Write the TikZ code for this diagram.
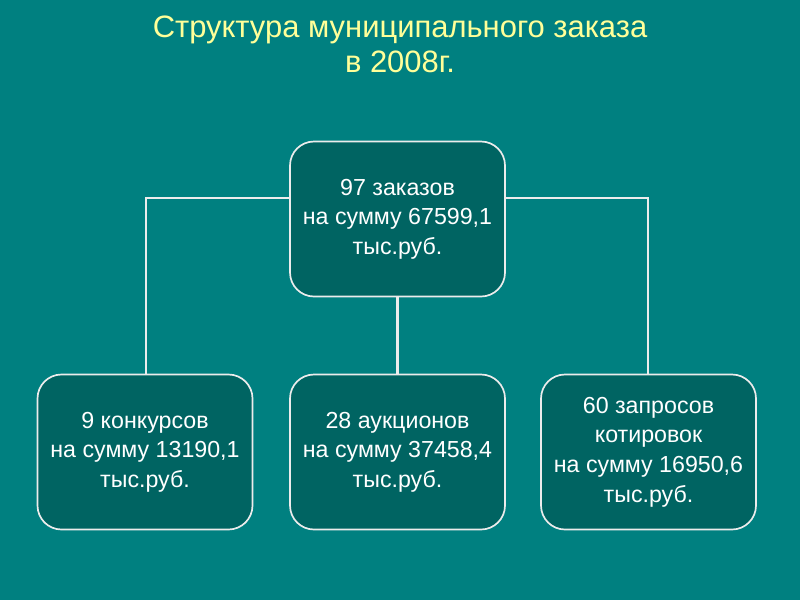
\documentclass[tikz,border=0pt]{standalone}
\usepackage{fontspec}
\setmainfont{Liberation Sans}
\begin{document}
\begin{tikzpicture}[x=0.025cm,y=-0.025cm,
  box/.style={draw=white!85!gray, line width=1.2pt, fill=boxcol, rounded corners=0.6cm,
    minimum width=215*0.025cm, minimum height=155*0.025cm, text=white, align=center,
    font=\fontsize{16.5}{21}\selectfont, inner sep=0pt},
  conn/.style={draw=white!85!gray, line width=1.6pt}]
\definecolor{bgcol}{HTML}{008080}
\definecolor{boxcol}{HTML}{006462}
\definecolor{titlecol}{HTML}{FFFF99}
\fill[bgcol] (0,0) rectangle (800,600);
\useasboundingbox (0,0) rectangle (800,600);
\node[text=titlecol, align=center, font=\fontsize{22}{25}\selectfont] (title) at (400,44)
  {Структура муниципального заказа\\в 2008г.};
\coordinate (hl) at (146,198);
\coordinate (hr) at (648,198);
\node[box] (top) at (397.5,219) {97 заказов\\на сумму 67599,1\\тыс.руб.};
\node[box] (b1) at (145,452) {9 конкурсов\\на сумму 13190,1\\тыс.руб.};
\node[box] (b2) at (397.5,452) {28 аукционов\\на сумму 37458,4\\тыс.руб.};
\node[box] (b3) at (648.5,452) {60 запросов\\котировок\\на сумму 16950,6\\тыс.руб.};
\draw[conn] (top.west |- hl) -- (hl) -- (hl |- b1.north);
\draw[conn] (top.east |- hr) -- (hr) -- (hr |- b3.north);
\draw[conn] (top.south) -- (b2.north);
\end{tikzpicture}
\end{document}
